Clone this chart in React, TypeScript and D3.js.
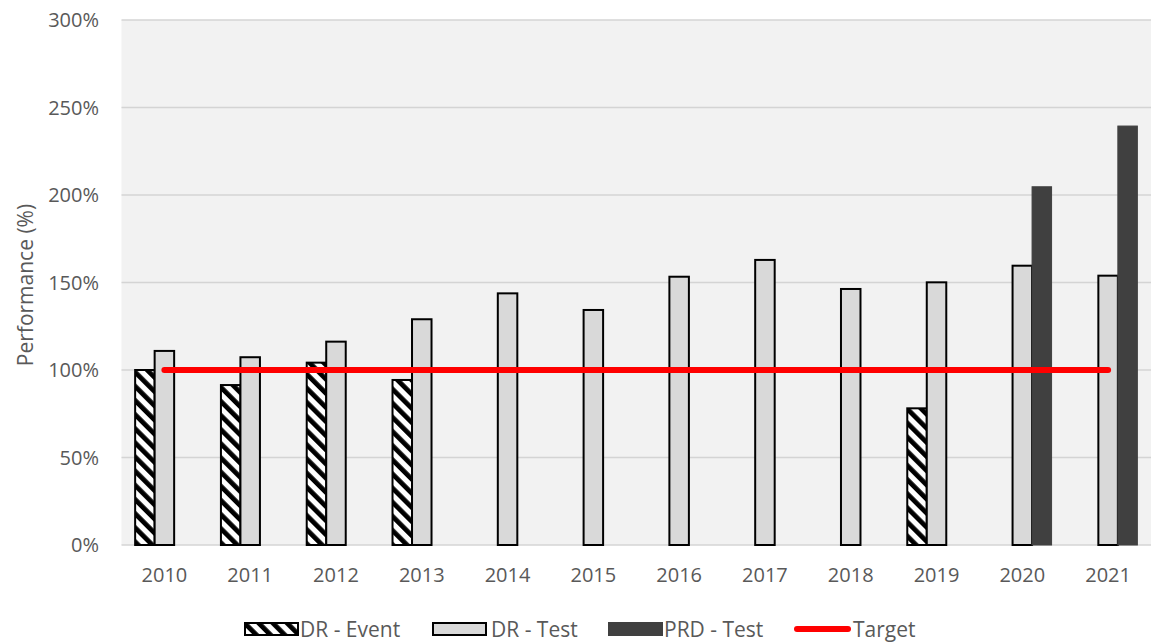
import React from "react";
import * as d3 from "d3";

const years = ["2010","2011","2012","2013","2014","2015","2016","2017","2018","2019","2020","2021"];
const drEvent: (number | null)[] = [100, 91.4, 104.2, 94.3, null, null, null, null, null, 78.1, null, null];
const drTest: (number | null)[] = [110.9, 107.3, 116.2, 129, 143.8, 134.3, 153.3, 162.9, 146.3, 150.1, 159.6, 153.9];
const prdTest: (number | null)[] = [null, null, null, null, null, null, null, null, null, null, 204.7, 239.4];
const target: number[] = [100, 100, 100, 100, 100, 100, 100, 100, 100, 100, 100, 100];
const yTicks = [0, 50, 100, 150, 200, 250, 300];

const W = 1154, H = 643;
const L = 121.5, R = 1151, T = 20, B = 545;
const FONT = "'Open Sans', sans-serif";
const TXT = "#595959";

export default function App() {
  const x = d3.scaleBand<string>().domain(years).range([L, R]).paddingInner(0.318).paddingOuter(0.159);
  const y = d3.scaleLinear().domain([0, 300]).range([B, T]);
  const bw = x.bandwidth() / 3;
  const series = [
    { vals: drEvent, fill: "url(#hatch)", stroke: "#000", sw: 2 },
    { vals: drTest, fill: "#d9d9d9", stroke: "#000", sw: 2 },
    { vals: prdTest, fill: "#404040", stroke: "#404040", sw: 1 },
  ];
  const line = d3.line<number>()
    .x((_, i) => (x(years[i]) as number) + x.bandwidth() / 2)
    .y((d) => y(d));

  const legend = [
    { kind: "hatch", sx: 245, tx: 300, label: "DR - Event" },
    { kind: "grey", sx: 433, tx: 491, label: "DR - Test" },
    { kind: "dark", sx: 609, tx: 664, label: "PRD - Test" },
    { kind: "line", sx: 794, tx: 853, label: "Target" },
  ];

  return (
    <svg width={W} height={H} style={{ display: "block", position: "absolute", left: 0, top: 0 }}>
      <defs>
        <pattern id="hatch" patternUnits="userSpaceOnUse" width="10" height="10" patternTransform="rotate(-45)">
          <rect x="0" y="0" width="10" height="10" fill="#fff" />
          <rect x="0" y="0" width="4.8" height="10" fill="#000" />
        </pattern>
      </defs>
      <rect x={0} y={0} width={W} height={H} fill="#fff" />
      <rect x={L} y={T} width={R - L} height={B - T} fill="#f2f2f2" />
      {yTicks.map((t) => (
        <g key={t}>
          <line x1={L} x2={R} y1={y(t)} y2={y(t)} stroke="#d4d4d4" strokeWidth={1.5} />
          <text x={99} y={y(t)} dy="0.36em" textAnchor="end" fontFamily={FONT} fontSize={20} fill={TXT}>
            {t}%
          </text>
        </g>
      ))}
      {years.map((yr) => (
        <text key={yr} x={(x(yr) as number) + x.bandwidth() / 2} y={582} textAnchor="middle" fontFamily={FONT} fontSize={20} fill={TXT}>
          {yr}
        </text>
      ))}
      <text transform={`translate(25,285) rotate(-90)`} dy="0.36em" textAnchor="middle" fontFamily={FONT} fontSize={21} fill={TXT}>
        Performance (%)
      </text>
      {series.map((s, si) =>
        s.vals.map((v, i) =>
          v == null ? null : (
            <rect
              key={`${si}-${i}`}
              x={(x(years[i]) as number) + si * bw}
              y={y(v)}
              width={bw}
              height={y(0) - y(v)}
              fill={s.fill}
              stroke={s.stroke}
              strokeWidth={s.sw}
            />
          )
        )
      )}
      <path d={line(target) || ""} fill="none" stroke="#ff0000" strokeWidth={6} strokeLinecap="round" />
      {legend.map((l) => (
        <g key={l.label}>
          {l.kind === "line" ? (
            <line x1={l.sx + 3} x2={l.sx + 54} y1={629} y2={629} stroke="#ff0000" strokeWidth={6} strokeLinecap="round" />
          ) : (
            <rect
              x={l.sx}
              y={623}
              width={53}
              height={12}
              fill={l.kind === "hatch" ? "url(#hatch)" : l.kind === "grey" ? "#d9d9d9" : "#404040"}
              stroke={l.kind === "dark" ? "#404040" : "#000"}
              strokeWidth={2}
            />
          )}
          <text x={l.tx} y={629} dy="0.36em" fontFamily={FONT} fontSize={21} fill={TXT}>
            {l.label}
          </text>
        </g>
      ))}
    </svg>
  );
}
